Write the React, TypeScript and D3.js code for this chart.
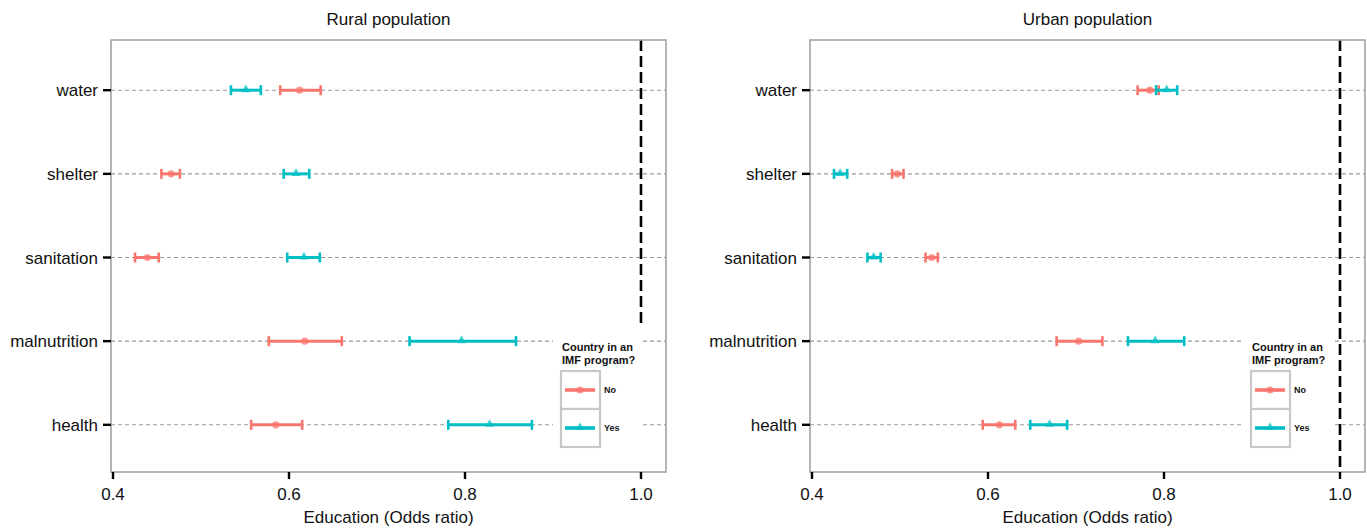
import React from 'react';
import * as d3 from 'd3';

const categories = ['water', 'shelter', 'sanitation', 'malnutrition', 'health'];
const programLevels = ['No', 'Yes'];
const xTicks = [0.4, 0.6, 0.8, 1.0];

// odds ratios: estimate, lower, upper (order follows categories)
const ruralNoEst = [0.612, 0.466, 0.439, 0.618, 0.585];
const ruralNoLo = [0.590, 0.455, 0.425, 0.577, 0.557];
const ruralNoHi = [0.636, 0.476, 0.452, 0.660, 0.615];
const ruralYesEst = [0.551, 0.608, 0.617, 0.796, 0.828];
const ruralYesLo = [0.534, 0.594, 0.598, 0.737, 0.781];
const ruralYesHi = [0.568, 0.623, 0.635, 0.858, 0.876];

const urbanNoEst = [0.784, 0.497, 0.536, 0.703, 0.613];
const urbanNoLo = [0.770, 0.491, 0.529, 0.678, 0.594];
const urbanNoHi = [0.794, 0.504, 0.543, 0.730, 0.631];
const urbanYesEst = [0.803, 0.432, 0.470, 0.790, 0.670];
const urbanYesLo = [0.791, 0.425, 0.463, 0.759, 0.648];
const urbanYesHi = [0.815, 0.440, 0.478, 0.823, 0.690];

const colors = { No: '#F8766D', Yes: '#00BFC4' };
const FONT = '"Liberation Sans", Arial, Helvetica, sans-serif';

const W = 555;
const TOP = 40;
const BOTTOM = 472;

const x = d3.scaleLinear().domain([0.4, 1.0]).range([2, 530]);
const y = d3.scalePoint<string>().domain(categories).range([TOP, 475]).padding(0.6);
const triangle = d3.symbol(d3.symbolTriangle, 34)();

const buildRows = (est, lo, hi, group) =>
  categories.map((c, i) => ({ cat: c, est: est[i], lo: lo[i], hi: hi[i], group }));

const Marker = ({ group, cx, cy }) =>
  group === 'No' ? (
    <circle cx={cx} cy={cy} r={3.6} fill={colors.No} fillOpacity={0.75} />
  ) : (
    <path d={triangle} transform={`translate(${cx},${cy - 0.5})`} fill={colors.Yes} fillOpacity={0.75} />
  );

const Panel = ({ left, title, rows, legendX }) => {
  return (
    <g transform={`translate(${left},0)`} fontFamily={FONT}>
      <text x={W / 2} y={25} textAnchor="middle" fontSize={17} fill="#111">{title}</text>
      {/* grid lines */}
      {categories.map((c) => (
        <line key={c} x1={0} x2={W} y1={y(c)} y2={y(c)} stroke="#999" strokeWidth={1.1} strokeDasharray="4,3" />
      ))}
      {/* reference line at 1 */}
      <line x1={x(1)} x2={x(1)} y1={TOP} y2={BOTTOM} stroke="#000" strokeWidth={2.6} strokeDasharray="11,5" />
      {/* error bars */}
      {rows.map((d, i) => {
        const yy = y(d.cat);
        const col = colors[d.group];
        return (
          <g key={i}>
            <line x1={x(d.lo)} x2={x(d.hi)} y1={yy} y2={yy} stroke={col} strokeWidth={3} />
            <line x1={x(d.lo)} x2={x(d.lo)} y1={yy - 5} y2={yy + 5} stroke={col} strokeWidth={2.6} />
            <line x1={x(d.hi)} x2={x(d.hi)} y1={yy - 5} y2={yy + 5} stroke={col} strokeWidth={2.6} />
            <Marker group={d.group} cx={x(d.est)} cy={yy} />
          </g>
        );
      })}
      {/* legend */}
      <g transform={`translate(${legendX},0)`}>
        <rect x={0} y={326} width={90} height={BOTTOM - 326 - 1} fill="#fff" />
        <text x={9} y={351} fontSize={11} fontWeight="bold" fill="#111">Country in an</text>
        <text x={9} y={364} fontSize={11} fontWeight="bold" fill="#111">IMF program?</text>
        {programLevels.map((g, i) => {
          const ky = 371 + i * 38;
          return (
            <g key={g}>
              <rect x={8} y={ky} width={39} height={38} fill="#fff" stroke="#c8c8c8" strokeWidth={2.2} />
              <line x1={12} x2={42} y1={ky + 19} y2={ky + 19} stroke={colors[g]} strokeWidth={3.6} />
              <Marker group={g} cx={27} cy={ky + 19} />
              <text x={51} y={ky + 22} fontSize={9} fontWeight="bold" fill="#111">{g}</text>
            </g>
          );
        })}
      </g>
      {/* panel border */}
      <rect x={0} y={TOP} width={W} height={BOTTOM - TOP} fill="none" stroke="#a3a3a3" strokeWidth={1.6} />
      {/* y axis */}
      {categories.map((c) => (
        <g key={c}>
          <line x1={-8} x2={0} y1={y(c)} y2={y(c)} stroke="#000" strokeWidth={2.4} />
          <text x={-13} y={y(c)} dy="0.36em" textAnchor="end" fontSize={17} fill="#111">{c}</text>
        </g>
      ))}
      {/* x axis */}
      {xTicks.map((t) => (
        <g key={t}>
          <line x1={x(t)} x2={x(t)} y1={BOTTOM} y2={BOTTOM + 7} stroke="#000" strokeWidth={2.4} />
          <text x={x(t)} y={500} textAnchor="middle" fontSize={17} fill="#111">{d3.format('.1f')(t)}</text>
        </g>
      ))}
      <text x={W / 2} y={523} textAnchor="middle" fontSize={17} fill="#111">Education (Odds ratio)</text>
    </g>
  );
};

export default function App() {
  const rural = [
    ...buildRows(ruralNoEst, ruralNoLo, ruralNoHi, 'No'),
    ...buildRows(ruralYesEst, ruralYesLo, ruralYesHi, 'Yes'),
  ];
  const urban = [
    ...buildRows(urbanNoEst, urbanNoLo, urbanNoHi, 'No'),
    ...buildRows(urbanYesEst, urbanYesLo, urbanYesHi, 'Yes'),
  ];
  return (
    <svg
      width={1367}
      height={528}
      style={{ position: 'absolute', left: 0, top: 0, display: 'block', background: '#fff' }}
    >
      <Panel left={111} title="Rural population" rows={rural} legendX={442} />
      <Panel left={810} title="Urban population" rows={urban} legendX={433} />
    </svg>
  );
}
